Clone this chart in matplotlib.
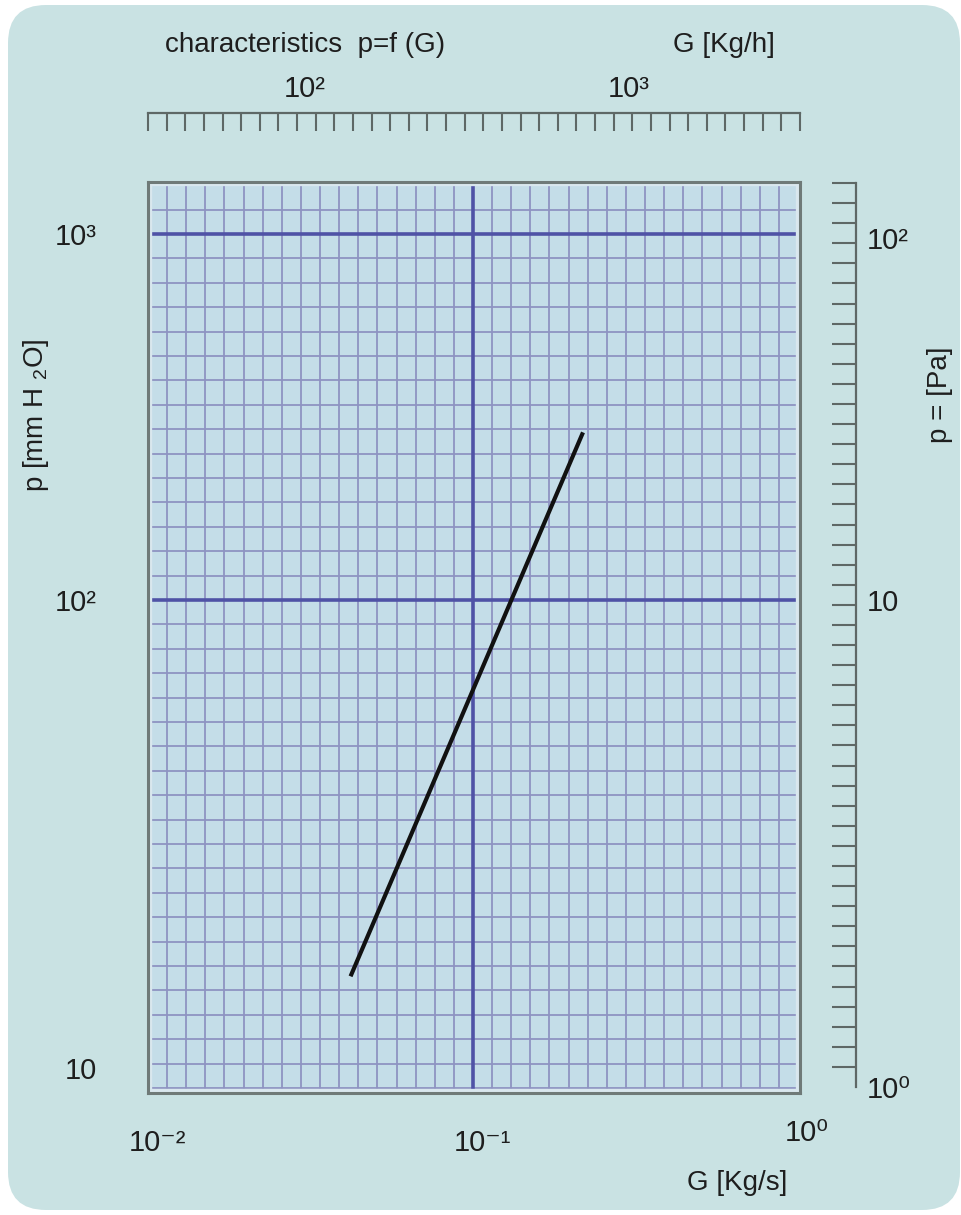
import numpy as np
import matplotlib
matplotlib.use('Agg')
import matplotlib.pyplot as plt
import matplotlib.transforms as mtransforms
from matplotlib.patches import FancyBboxPatch, Rectangle
from matplotlib.ticker import FixedLocator, FixedFormatter, NullFormatter

plt.rcParams['font.family'] = ['Liberation Sans', 'DejaVu Sans']
plt.rcParams['mathtext.default'] = 'regular'

# ---------------- data ----------------
flow_kg_s = [0.042, 0.218]          # G [Kg/s] at curve ends
pressure_mm = [15.7, 287.0]         # p [mm H2O] at curve ends

x_ticks = [0.01, 0.1, 1.0]
x_tick_labels = ['10\u207b\u00b2', '10\u207b\u00b9', '10\u2070']
y_ticks = [10, 100, 1000]
y_tick_labels = ['10', '10\u00b2', '10\u00b3']
top_ticks_kg_h = [100, 1000]
top_tick_labels = ['10\u00b2', '10\u00b3']
right_ticks_pa = [1, 10, 100]
right_tick_labels = ['10\u2070', '10', '10\u00b2']

title_text = 'characteristics  p=f (G)'
top_unit = 'G [Kg/h]'
bottom_unit = 'G [Kg/s]'
left_unit = 'p [mm H $_2$O]'
right_unit = 'p = [Pa]'

# ---------------- style ----------------
W, H = 962, 1215
PANEL = '#c9e2e3'
FACE = '#c4dde8'
THIN = '#8e93c2'
THICK = '#4f52a6'
FRAME = '#6f7a78'
RULER = '#5e6866'
TXT = '#1e1e1e'


def rect(x0, y0, x1, y1):
    return [x0 / W, 1 - y1 / H, (x1 - x0) / W, (y1 - y0) / H]


def make_piecewise(b, k):
    """log10 scale whose decades below 10**b are stretched by factor k"""
    def fwd(v):
        v = np.asarray(v, float)
        lg = np.log10(np.clip(v, 1e-30, None))
        return np.where(lg >= b, lg, b - (b - lg) * k)

    def inv(t):
        t = np.asarray(t, float)
        return 10 ** np.where(t >= b, t, b - (b - t) / k)
    return fwd, inv


fig = plt.figure(figsize=(W / 100, H / 100), dpi=100)
fig.patch.set_facecolor('white')
panel = FancyBboxPatch((0.08, 0.05), 9.52, 12.05,
                       boxstyle='round,pad=0,rounding_size=0.38',
                       transform=fig.dpi_scale_trans, facecolor=PANEL,
                       edgecolor='none', zorder=0)
fig.add_artist(panel)

# ---------------- main axes ----------------
ax = fig.add_axes(rect(148, 182, 800, 1093))
ax.set_facecolor(FACE)
ax.set_xscale('log')
x_hi = 10 ** (-2 + 652 / 325)
ax.set_xlim(0.01, x_hi)

fwd_m, inv_m = make_piecewise(2, 468 / 366)
ax.set_yscale('function', functions=(fwd_m, inv_m))
ax.set_ylim(float(inv_m(0.653)), float(inv_m(3.142)))

# uniform paper grid
gx = 10 ** (-2 + np.arange(1, 35) / 17)
gy = inv_m(2 + np.arange(-20, 18) / 15)
ax.xaxis.set_minor_locator(FixedLocator(gx))
ax.yaxis.set_minor_locator(FixedLocator(gy))
ax.xaxis.set_minor_formatter(NullFormatter())
ax.yaxis.set_minor_formatter(NullFormatter())
ax.grid(which='minor', color=THIN, lw=1.3, zorder=1)
ax.set_axisbelow(True)

ax.axvline(0.1, color=THICK, lw=2.6, zorder=2)
for yv in (100, 1000):
    ax.axhline(yv, color=THICK, lw=2.6, zorder=2)

ax.add_patch(Rectangle((0, 0), 1, 1, transform=ax.transAxes, fill=False,
                       edgecolor='#d9e7ee', lw=6, zorder=3))

ax.plot(flow_kg_s, pressure_mm, color='#111111', lw=3.0,
        solid_capstyle='butt', zorder=4)

ax.xaxis.set_major_locator(FixedLocator(x_ticks))
ax.xaxis.set_major_formatter(FixedFormatter(x_tick_labels))
ax.yaxis.set_major_locator(FixedLocator(y_ticks))
ax.yaxis.set_major_formatter(FixedFormatter(y_tick_labels))
ax.tick_params(which='both', length=0)
ax.tick_params(axis='x', which='major', pad=26, labelsize=21, labelcolor=TXT)
ax.tick_params(axis='y', which='major', pad=37, labelsize=21, labelcolor=TXT)
for s in ax.spines.values():
    s.set_color(FRAME)
    s.set_linewidth(2.2)
    s.set_zorder(5)

for lbl in ax.get_xticklabels():
    dy = 10 if lbl.get_text() == x_tick_labels[-1] else 0
    off = mtransforms.ScaledTranslation(9 / 100, dy / 100, fig.dpi_scale_trans)
    lbl.set_transform(lbl.get_transform() + off)

# ---------------- top ruler (Kg/h) ----------------
axt = fig.add_axes(rect(148, 113, 800, 140))
axt.set_facecolor('none')
axt.set_xscale('log')
axt.set_xlim(0.01, x_hi)
axt.set_yticks([])
for side in ('left', 'right', 'bottom'):
    axt.spines[side].set_visible(False)
axt.spines['top'].set_color(RULER)
axt.spines['top'].set_linewidth(1.6)
axt.xaxis.set_major_locator(FixedLocator(np.array(top_ticks_kg_h) / 3600.0))
axt.xaxis.set_major_formatter(FixedFormatter(top_tick_labels))
axt.xaxis.set_minor_locator(FixedLocator(np.logspace(-2, np.log10(x_hi), 36)))
axt.xaxis.set_minor_formatter(NullFormatter())
axt.tick_params(axis='x', which='both', top=True, bottom=False,
                labeltop=True, labelbottom=False)
axt.tick_params(axis='x', which='major', length=0, pad=7, labelsize=21,
                labelcolor=TXT)
axt.tick_params(axis='x', which='minor', direction='in', length=13,
                width=1.5, color=RULER)
for lbl in axt.get_xticklabels():
    off = mtransforms.ScaledTranslation(12 / 100, 0, fig.dpi_scale_trans)
    lbl.set_transform(lbl.get_transform() + off)

# ---------------- right ruler (Pa) ----------------
axr = fig.add_axes(rect(826, 183, 856, 1087))
axr.set_facecolor('none')
fwd_r, inv_r = make_piecewise(1, 487 / 362)
axr.set_yscale('function', functions=(fwd_r, inv_r))
t_lo, t_hi = float(fwd_r(1.0)), 2.152
axr.set_ylim(1.0, float(inv_r(t_hi)))
axr.set_xticks([])
for side in ('left', 'top', 'bottom'):
    axr.spines[side].set_visible(False)
axr.spines['right'].set_color(RULER)
axr.spines['right'].set_linewidth(1.6)
axr.yaxis.set_major_locator(FixedLocator(right_ticks_pa))
axr.yaxis.set_major_formatter(FixedFormatter(right_tick_labels))
axr.yaxis.set_minor_locator(FixedLocator(inv_r(np.linspace(t_lo, t_hi, 46))))
axr.yaxis.set_minor_formatter(NullFormatter())
axr.tick_params(axis='y', which='both', right=True, left=False,
                labelright=True, labelleft=False)
axr.tick_params(axis='y', which='major', length=0, pad=8, labelsize=21,
                labelcolor=TXT)
axr.tick_params(axis='y', which='minor', direction='in', length=17,
                width=1.5, color=RULER)

# ---------------- texts ----------------
fig.text(165 / W, 1 - 45 / H, title_text, fontsize=20, color=TXT,
         ha='left', va='center')
fig.text(724 / W, 1 - 45 / H, top_unit, fontsize=20, color=TXT,
         ha='center', va='center')
fig.text(737 / W, 1 - 1183 / H, bottom_unit, fontsize=20, color=TXT,
         ha='center', va='center')
fig.text(36 / W, 1 - 415 / H, left_unit, fontsize=20, color=TXT,
         rotation=90, ha='center', va='center')
fig.text(940 / W, 1 - 395 / H, right_unit, fontsize=20, color=TXT,
         rotation=90, ha='center', va='center')

fig.savefig('out.png', dpi=100, facecolor='white')
